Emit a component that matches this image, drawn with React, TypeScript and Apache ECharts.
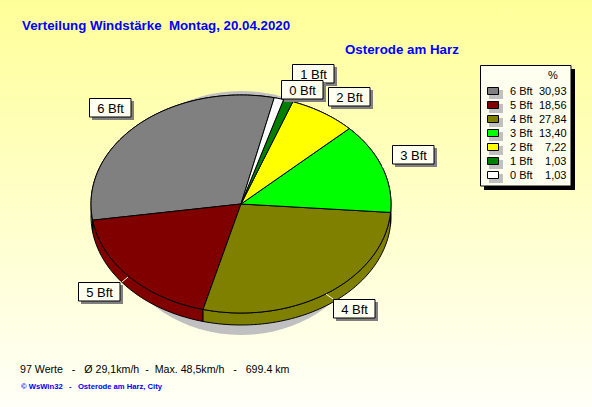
import React, { useEffect, useRef } from "react";
import * as echarts from "echarts";

const categories = ["6 Bft", "5 Bft", "4 Bft", "3 Bft", "2 Bft", "1 Bft", "0 Bft"];
const percentValues = [30.93, 18.56, 27.84, 13.4, 7.22, 1.03, 1.03];
const percentLabels = ["30,93", "18,56", "27,84", "13,40", "7,22", "1,03", "1,03"];
const sliceColors = ["#808080", "#800000", "#808000", "#00FF00", "#FFFF00", "#008000", "#FFFFFF"];
const titleText = "Verteilung Windstärke  Montag, 20.04.2020";
const stationText = "Osterode am Harz";
const statsText = "97 Werte   -   Ø 29,1km/h  -  Max. 48,5km/h   -   699.4 km";
const creditText = "© WsWin32   -   Osterode am Harz, City";

const W = 592;
const H = 407;
const CX = 241;
const CY = 204;
const RX = 150;
const RY = 109;
const DEPTH = 12;
const START_DEG = 12.8; // clockwise from top, slices run counter-clockwise

const FONT = '"Liberation Sans", Arial, sans-serif';
const total = percentValues.reduce((a, b) => a + b, 0);

function arc(from: number, to: number, dy: number) {
  const steps = Math.max(2, Math.ceil(Math.abs(to - from) / 1.5));
  const pts: number[][] = [];
  for (let i = 0; i <= steps; i++) {
    const a = ((from + ((to - from) * i) / steps) * Math.PI) / 180;
    pts.push([CX + RX * Math.sin(a), CY + dy - RY * Math.cos(a)]);
  }
  return pts;
}

function sliceRange(index: number, value: number) {
  let before = 0;
  for (let i = 0; i < index; i++) before += percentValues[i];
  const from = START_DEG - (before / total) * 360;
  return [from, from - (value / total) * 360];
}

// label boxes: name → [x, y], leader line → [x1, y1, x2, y2]
const labelLayout: Record<string, { x: number; y: number; line?: number[] }> = {
  "1 Bft": { x: 292, y: 64 },
  "0 Bft": { x: 281, y: 80 },
  "2 Bft": { x: 328, y: 87, line: [324, 110, 328, 105] },
  "3 Bft": { x: 392, y: 145, line: [382, 167, 392, 163] },
  "4 Bft": { x: 333, y: 299, line: [326, 294, 333, 299] },
  "5 Bft": { x: 78, y: 282, line: [122, 282, 128, 277] },
  "6 Bft": { x: 89, y: 98 },
};
const labelOrder = ["6 Bft", "5 Bft", "4 Bft", "3 Bft", "2 Bft", "1 Bft", "0 Bft"];

function buildGraphics() {
  const els: any[] = [];
  const txt = (text: string, x: number, y: number, font: string, fill: string, align = "left", z = 20) => ({
    type: "text",
    x,
    y,
    z,
    silent: true,
    style: { text, font, fill, textAlign: align, textVerticalAlign: "middle" },
  });
  const rect = (x: number, y: number, w: number, h: number, fill: string, stroke: string | null, z: number) => ({
    type: "rect",
    z,
    silent: true,
    shape: { x, y, width: w, height: h },
    style: { fill, stroke: stroke ?? undefined, lineWidth: stroke ? 1 : 0 },
  });

  els.push({
    type: "ellipse",
    z: 0,
    silent: true,
    shape: { cx: CX, cy: 213, rx: 134, ry: 122 },
    style: { fill: "#C0C0C0" },
  });

  els.push(txt(titleText, 22, 25, `bold 13.3px ${FONT}`, "#0000FF"));
  els.push(txt(stationText, 345, 49, `bold 13.3px ${FONT}`, "#0000FF"));
  els.push(txt(statsText, 20, 369, `10.65px ${FONT}`, "#000000"));
  els.push(txt(creditText, 21, 386, `bold 7.65px ${FONT}`, "#0000FF"));

  let z = 10;
  labelOrder.forEach((name) => {
    const l = labelLayout[name];
    if (l.line) {
      els.push({
        type: "line",
        z: 10,
        silent: true,
        shape: { x1: l.line[0], y1: l.line[1], x2: l.line[2], y2: l.line[3] },
        style: { stroke: "#FFFFF0", lineWidth: 1 },
      });
    }
    z += 1;
    els.push(rect(l.x + 3, l.y + 3, 42, 19, "#808080", null, z));
    z += 1;
    els.push(rect(l.x + 0.5, l.y + 0.5, 41.5, 18.5, "#FFFFF0", "#000000", z));
    z += 1;
    els.push(txt(name, l.x + 21.5, l.y + 10, `13px ${FONT}`, "#000000", "center", z));
  });

  z = 60;
  els.push(rect(484, 69, 91, 121, "#000000", null, z));
  els.push(rect(480.5, 65.5, 90.5, 120.5, "#FFFFF0", "#000000", z + 1));
  els.push(txt("%", 553, 75, `11px ${FONT}`, "#000000", "center", z + 2));
  categories.forEach((name, i) => {
    const y = 91 + i * 13.95;
    els.push(rect(489, Math.round(y) - 1, 14, 9, "#C0C0C0", null, z + 1));
    els.push(rect(487.5, Math.round(y) - 3.5, 11, 7, sliceColors[i], "#000000", z + 2));
    els.push(txt(name, 510, y, `11px ${FONT}`, "#000000", "left", z + 2));
    els.push(txt(percentLabels[i], 566.5, y, `11px ${FONT}`, "#000000", "right", z + 2));
  });
  return els;
}

export default function App() {
  const ref = useRef<HTMLDivElement>(null);
  useEffect(() => {
    document.body.style.margin = "0";
    const chart = echarts.init(ref.current!, undefined, { renderer: "svg", width: W, height: H });
    const data = categories.map((name, i) => ({ name, value: percentValues[i] }));
    chart.setOption({
      animation: false,
      backgroundColor: new echarts.graphic.LinearGradient(0, 0, 0, 1, [
        { offset: 0, color: "#FFFF99" },
        { offset: 1, color: "#FFFFF8" },
      ]),
      tooltip: { show: false },
      graphic: { elements: buildGraphics() },
      series: [
        {
          type: "custom",
          coordinateSystem: "none",
          silent: true,
          z: 2,
          data,
          renderItem: (params: any, api: any) => {
            const [from, to] = sliceRange(params.dataIndex, api.value(0));
            const points = [...arc(from, to, 0), ...arc(to, from, DEPTH)];
            return {
              type: "polygon",
              shape: { points },
              style: { fill: sliceColors[params.dataIndex], stroke: "#000000", lineWidth: 1 },
            };
          },
        },
        {
          type: "custom",
          coordinateSystem: "none",
          silent: true,
          z: 3,
          data,
          renderItem: (params: any, api: any) => {
            const [from, to] = sliceRange(params.dataIndex, api.value(0));
            const points = [[CX, CY], ...arc(from, to, 0)];
            return {
              type: "polygon",
              shape: { points },
              style: { fill: sliceColors[params.dataIndex], stroke: "#000000", lineWidth: 1 },
            };
          },
        },
      ],
    });
    return () => chart.dispose();
  }, []);
  return <div ref={ref} style={{ width: W, height: H }} />;
}
